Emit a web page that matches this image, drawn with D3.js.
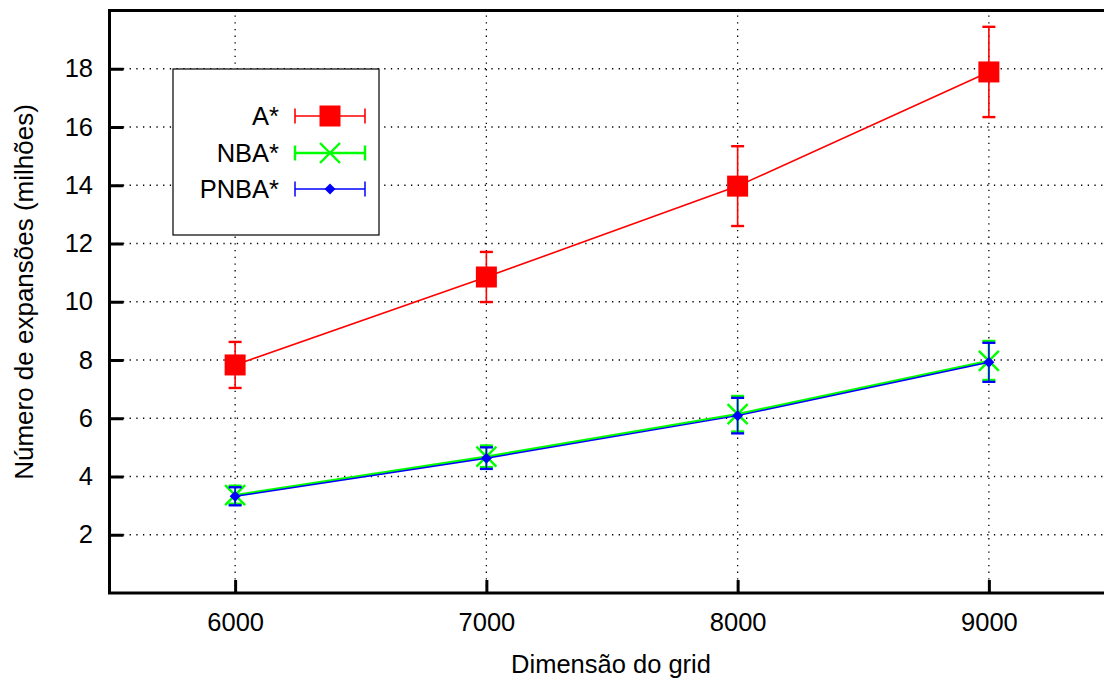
<!DOCTYPE html>
<html>
<head>
<meta charset="utf-8">
<script src="https://cdn.jsdelivr.net/npm/d3@7"></script>
<style>
  body { margin: 0; background: #fff; }
  svg { display: block; font-family: "Liberation Sans", Arial, sans-serif; }
</style>
</head>
<body>
<div class="chart"></div>
<script>
const gridSizes = [6000, 7000, 8000, 9000];
const aStarValues = [7.83, 10.85, 13.97, 17.89];
const aStarErrors = [0.79, 0.86, 1.37, 1.55];
const nbaValues = [3.36, 4.68, 6.14, 7.97];
const nbaErrors = [0.31, 0.37, 0.61, 0.67];
const pnbaValues = [3.32, 4.63, 6.09, 7.92];
const pnbaErrors = [0.31, 0.37, 0.61, 0.67];
const xTicks = [6000, 7000, 8000, 9000];
const yTicks = [2, 4, 6, 8, 10, 12, 14, 16, 18];

const width = 1104, height = 682;
const fontSize = 25.5;

const scale_x = d3.scaleLinear().domain([5500, 9500]).range([109.5, 1114.5]);
const scale_y = d3.scaleLinear().domain([0, 20]).range([593, 10.5]);

const svg = d3.select(".chart").append("svg")
    .attr("width", width)
    .attr("height", height);

// grid
const grid = svg.append("g").attr("class", "grid");
grid.selectAll(".gy").data(yTicks).join("line")
    .attr("x1", scale_x(5500)).attr("x2", scale_x(9500))
    .attr("y1", d => scale_y(d)).attr("y2", d => scale_y(d))
    .attr("stroke", "#000").attr("stroke-width", 1.3)
    .attr("stroke-dasharray", "1.3,5.4");
grid.selectAll(".gx").data(xTicks).join("line")
    .attr("x1", d => scale_x(d)).attr("x2", d => scale_x(d))
    .attr("y1", scale_y(0)).attr("y2", scale_y(20))
    .attr("stroke", "#000").attr("stroke-width", 1.3)
    .attr("stroke-dasharray", "1.3,5.4");

// axes drawn by d3, ticks inward
const xAxis = d3.axisBottom(scale_x).tickValues(xTicks).tickSize(-13).tickPadding(20).tickFormat(d3.format("d"));
const yAxis = d3.axisLeft(scale_y).tickValues(yTicks).tickSize(-14).tickPadding(16.5).tickFormat(d3.format("d"));

const gx = svg.append("g").attr("transform", `translate(0,${scale_y(0)})`).call(xAxis);
const gy = svg.append("g").attr("transform", `translate(${scale_x(5500)},0)`).call(yAxis);
[gx, gy].forEach(g => {
    g.select(".domain").remove();
    g.selectAll(".tick line").attr("stroke", "#000").attr("stroke-width", 3);
    g.selectAll(".tick text").attr("fill", "#000").attr("font-size", fontSize)
        .attr("font-family", "Liberation Sans, Arial, sans-serif");
});

// frame (right edge falls outside the picture)
svg.append("rect")
    .attr("x", scale_x(5500)).attr("y", scale_y(20))
    .attr("width", scale_x(9500) - scale_x(5500))
    .attr("height", scale_y(0) - scale_y(20))
    .attr("fill", "none").attr("stroke", "#000").attr("stroke-width", 3);

// axis titles
svg.append("text")
    .attr("x", 611).attr("y", 673)
    .attr("text-anchor", "middle").attr("font-size", fontSize)
    .text("Dimensão do grid");
svg.append("text")
    .attr("transform", "translate(33,292) rotate(-90)")
    .attr("text-anchor", "middle").attr("font-size", 26)
    .text("Número de expansões (milhões)");

const series = [
    { name: "A*", values: aStarValues, errors: aStarErrors, color: "#ff0000", lw: 1.6, cap: 6.5, marker: "square" },
    { name: "NBA*", values: nbaValues, errors: nbaErrors, color: "#00ff00", lw: 2.4, cap: 6.5, marker: "cross" },
    { name: "PNBA*", values: pnbaValues, errors: pnbaErrors, color: "#0000ff", lw: 1.5, cap: 6.5, marker: "diamond" }
];

function drawMarker(g, type, color) {
    if (type === "square") {
        g.append("rect").attr("x", -10.5).attr("y", -10.5).attr("width", 21).attr("height", 21).attr("fill", color);
    } else if (type === "cross") {
        g.append("path").attr("d", "M-10,-10L10,10M-10,10L10,-10")
            .attr("stroke", color).attr("stroke-width", 2.4).attr("fill", "none");
    } else {
        g.append("path").attr("d", "M0,-5.5L5.5,0L0,5.5L-5.5,0Z").attr("fill", color);
    }
}

const line = d3.line().x(d => scale_x(d.x)).y(d => scale_y(d.y));

series.forEach(s => {
    const pts = gridSizes.map((x, i) => ({ x: x, y: s.values[i], e: s.errors[i] }));
    const g = svg.append("g");
    g.append("path").datum(pts).attr("d", line)
        .attr("fill", "none").attr("stroke", s.color).attr("stroke-width", s.lw);
    const bars = g.selectAll(".err").data(pts).join("g");
    bars.append("line")
        .attr("x1", d => scale_x(d.x)).attr("x2", d => scale_x(d.x))
        .attr("y1", d => scale_y(d.y + d.e)).attr("y2", d => scale_y(d.y - d.e))
        .attr("stroke", s.color).attr("stroke-width", s.lw);
    [1, -1].forEach(sign => {
        bars.append("line")
            .attr("x1", d => scale_x(d.x) - s.cap).attr("x2", d => scale_x(d.x) + s.cap)
            .attr("y1", d => scale_y(d.y + sign * d.e)).attr("y2", d => scale_y(d.y + sign * d.e))
            .attr("stroke", s.color).attr("stroke-width", s.lw + 0.8);
    });
    bars.each(function (d) {
        const m = d3.select(this).append("g").attr("transform", `translate(${scale_x(d.x)},${scale_y(d.y)})`);
        drawMarker(m, s.marker, s.color);
    });
});

// legend
const legend = svg.append("g");
legend.append("rect")
    .attr("x", 173).attr("y", 69).attr("width", 206).attr("height", 166)
    .attr("fill", "#fff").attr("stroke", "#000").attr("stroke-width", 1.2);
const legendRows = [116, 153, 189];
series.forEach((s, i) => {
    const y = legendRows[i];
    const row = legend.append("g");
    row.append("text").attr("x", 279).attr("y", y + 9)
        .attr("text-anchor", "end").attr("font-size", fontSize).text(s.name);
    row.append("line").attr("x1", 295).attr("x2", 365).attr("y1", y).attr("y2", y)
        .attr("stroke", s.color).attr("stroke-width", s.lw);
    [295, 365].forEach(x => {
        row.append("line").attr("x1", x).attr("x2", x).attr("y1", y - 7.5).attr("y2", y + 7.5)
            .attr("stroke", s.color).attr("stroke-width", s.lw);
    });
    const m = row.append("g").attr("transform", `translate(330,${y})`);
    drawMarker(m, s.marker, s.color);
});
</script>
</body>
</html>
